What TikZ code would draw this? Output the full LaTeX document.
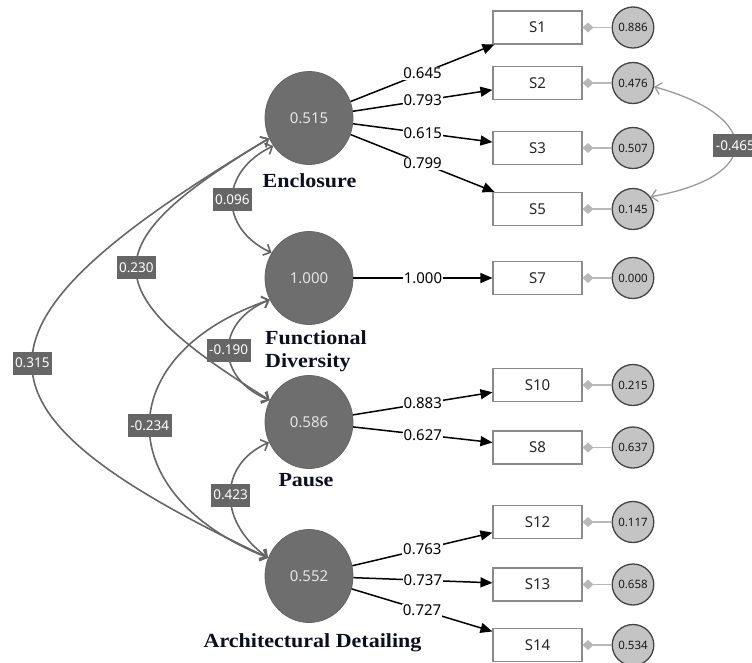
\documentclass[tikz,border=0pt]{standalone}
\usepackage{fontspec}
\setmainfont{Liberation Serif}
\newfontfamily\lblfont{Noto Sans}
\newfontfamily\titlefont{Liberation Serif}[FakeStretch=1.1]
\usetikzlibrary{shapes.geometric,arrows.meta}
\definecolor{latfill}{HTML}{6E6E6E}
\definecolor{latdraw}{HTML}{666666}
\definecolor{lattext}{HTML}{E4E4E4}
\definecolor{errfill}{HTML}{C4C4C4}
\definecolor{errdraw}{HTML}{444444}
\definecolor{inddraw}{HTML}{8A8A8A}
\definecolor{errline}{HTML}{B8B8B8}
\definecolor{covcol}{HTML}{666666}
\definecolor{rcovcol}{HTML}{9A9A9A}
\definecolor{ttlcol}{HTML}{0E0E22}
\tikzset{
 latent/.style={ellipse, fill=latfill, draw=latdraw, line width=0.8pt, minimum width=88pt, minimum height=93pt, inner sep=0pt, text=lattext, font={\lblfont\fontsize{15}{17}\selectfont}},
 errc/.style={ellipse, fill=errfill, draw=errdraw, line width=1.3pt, minimum width=38pt, minimum height=41pt, inner sep=0pt, text=black!90, font={\lblfont\fontsize{11.5}{13}\selectfont}},
 ind/.style={rectangle, draw=inddraw, line width=1.1pt, fill=white, minimum width=89pt, minimum height=33pt, inner sep=0pt, text=black!85, font={\lblfont\fontsize{15}{17}\selectfont}},
 ttl/.style={anchor=base, inner sep=0pt, text=ttlcol, font={\titlefont\bfseries\fontsize{20}{22}\selectfont}},
 load/.style={-{Triangle[length=12pt,width=10pt]}, line width=1.5pt, draw=black},
 lval/.style={fill=white, inner sep=1pt, text=black, font={\lblfont\fontsize{15}{17}\selectfont}},
 cov/.style={{Straight Barb[length=6pt,width=12pt]}-{Straight Barb[length=6pt,width=12pt]}, line width=1.6pt, draw=covcol},
 rcov/.style={{Straight Barb[length=6pt,width=12pt]}-{Straight Barb[length=6pt,width=12pt]}, line width=1.3pt, draw=rcovcol},
 cval/.style={fill=covcol, text=white, inner xsep=2.5pt, inner ysep=0pt, minimum height=23pt, font={\lblfont\fontsize{13.5}{15}\selectfont}},
 errl/.style={{Diamond[length=11pt,width=10pt]}-, line width=1.3pt, draw=errline},
}
\begin{document}
\begin{tikzpicture}[x=1pt, y=-1pt]
\useasboundingbox (0,0) rectangle (752,662);
\clip (0,0) rectangle (752,662);

% latent variables
\node[latent] (enc) at (309,118) {0.515};
\node[latent] (fd) at (309,278) {1.000};
\node[latent] (pau) at (309,422) {0.586};
\node[latent] (arc) at (309,576) {0.552};

% titles
\node[ttl] (tEnc) at (309.5,187) {Enclosure};
\node[ttl, anchor=base west] (tFD1) at (265,344) {Functional};
\node[ttl, anchor=base west] (tFD2) at (265,367) {Diversity};
\node[ttl] (tPau) at (306,486) {Pause};
\node[ttl] (tArc) at (312.5,647) {Architectural Detailing};

% indicators
\node[ind] (s1) at (537.5,27.5) {S1};
\node[ind] (s2) at (537.5,83) {S2};
\node[ind] (s3) at (537.5,148) {S3};
\node[ind] (s5) at (537.5,209) {S5};
\node[ind] (s7) at (537.5,278) {S7};
\node[ind] (s10) at (537.5,385) {S10};
\node[ind] (s8) at (537.5,447.5) {S8};
\node[ind] (s12) at (537.5,522) {S12};
\node[ind] (s13) at (537.5,584.5) {S13};
\node[ind] (s14) at (537.5,645) {S14};

% error terms
\node[errc] (e1) at (633,27.5) {0.886};
\node[errc] (e2) at (633,83) {0.476};
\node[errc] (e3) at (633,148) {0.507};
\node[errc] (e5) at (633,209) {0.145};
\node[errc] (e7) at (633,278) {0.000};
\node[errc] (e10) at (633,385) {0.215};
\node[errc] (e8) at (633,447.5) {0.637};
\node[errc] (e12) at (633,522) {0.117};
\node[errc] (e13) at (633,584.5) {0.658};
\node[errc] (e14) at (633,645) {0.534};

% error connectors
\foreach \i in {1,2,3,5,7,10,8,12,13,14}{
  \draw[errl] (s\i) -- (e\i);
}

% loadings
\draw[load] (enc) -- node[lval]{0.645} (s1);
\draw[load] (enc) -- node[lval]{0.793} (s2);
\draw[load] (enc) -- node[lval]{0.615} (s3);
\draw[load] (enc) -- node[lval]{0.799} (s5);
\draw[load] (fd) -- node[lval]{1.000} (s7);
\draw[load] (pau) -- node[lval]{0.883} (s10);
\draw[load] (pau) -- node[lval]{0.627} (s8);
\draw[load] (arc) -- node[lval]{0.763} (s12);
\draw[load] (arc) -- node[lval]{0.737} (s13);
\draw[load] (arc) -- node[lval]{0.727} (s14);

% covariances between latent variables
\draw[cov] (enc.207) .. controls (-46,327) and (-47,409) .. (arc.156) node[cval, pos=0.5] {0.315};
\draw[cov] (enc.207) .. controls (92,245) and (92,290) .. (pau.151) node[cval, pos=0.5] {0.230};
\draw[cov] (fd.209) .. controls (110,355) and (110,495) .. (arc.156) node[cval, pos=0.5] {-0.234};
\draw[cov] (enc.218) .. controls (219,172) and (219,228) .. (fd.146) node[cval, pos=0.5] {0.096};
\draw[cov] (fd.209) .. controls (215,322) and (215,378) .. (pau.151) node[cval, pos=0.5] {-0.190};
\draw[cov] (pau.207) .. controls (218,465) and (218,522) .. (arc.156) node[cval, pos=0.5] {0.423};

% error covariance
\draw[rcov] (e2.-10) .. controls (763,117) and (763,177) .. (e5.35) node[cval, pos=0.5] {-0.465};
\end{tikzpicture}
\end{document}
